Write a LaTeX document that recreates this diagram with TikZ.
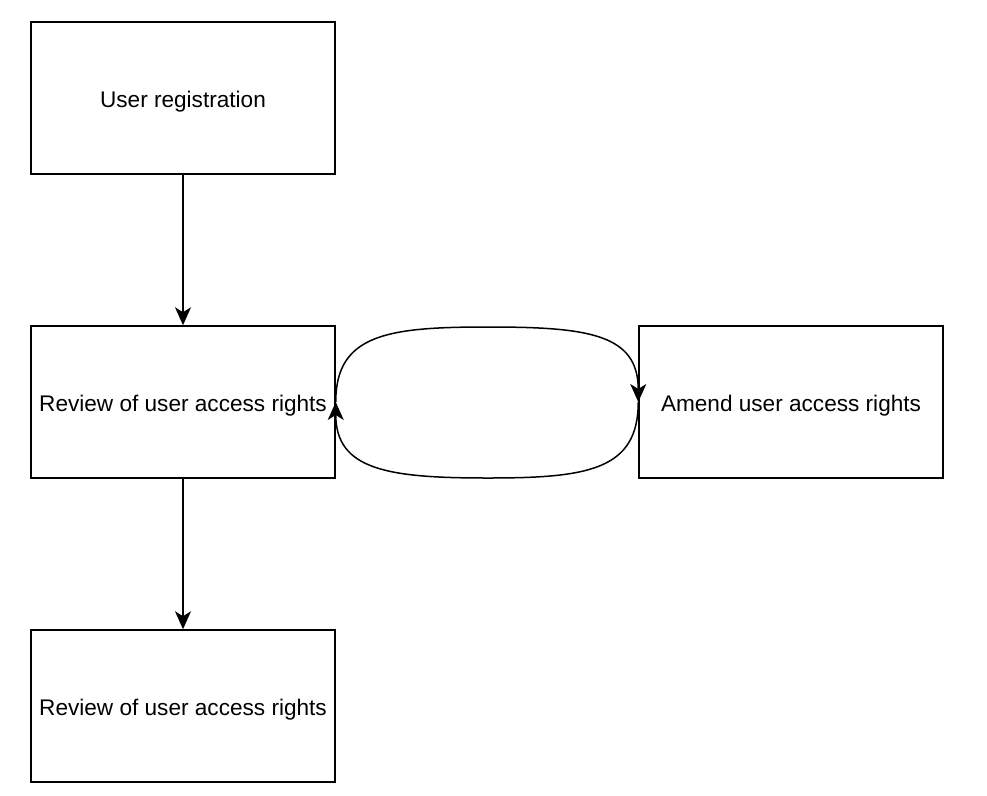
\documentclass[tikz,border=0pt]{standalone}
\usepackage{fontspec}
\setmainfont{Liberation Sans}
\usetikzlibrary{arrows.meta}
\newcommand{\boxtext}[1]{\raisebox{-9.7pt}[0pt][0pt]{#1}}
\begin{document}
\begin{tikzpicture}[x=1pt,y=-1pt,
  box/.style={draw,line width=1.5pt,minimum width=304pt,minimum height=152pt,inner sep=0pt,
    font=\fontsize{22.6}{27}\selectfont},
  conn/.style={line width=1.5pt,-{Stealth[length=18pt,width=16pt,inset=5pt]}}]
\useasboundingbox (0,0) rectangle (987,795);
\node[box] (reg) at (183,98) {\boxtext{User registration}};
\node[box] (rev) at (183,402) {\boxtext{Review of user access rights}};
\node[box] (rev2) at (183,706) {\boxtext{Review of user access rights}};
\node[box] (amend) at (791,402) {\boxtext{Amend user access rights}};
\coordinate (topmid) at (488,327);
\coordinate (botmid) at (488,478);
\draw[conn] (reg) -- (rev);
\draw[conn] (rev) -- (rev2);
\draw[conn] (rev.east) .. controls +(0,-68) and +(-100,0) .. (topmid)
  .. controls +(100,0) and +(0,-68) .. (amend.west);
\draw[conn] (amend.west) .. controls +(0,68) and +(100,0) .. (botmid)
  .. controls +(-100,0) and +(0,68) .. (rev.east);
\end{tikzpicture}
\end{document}
